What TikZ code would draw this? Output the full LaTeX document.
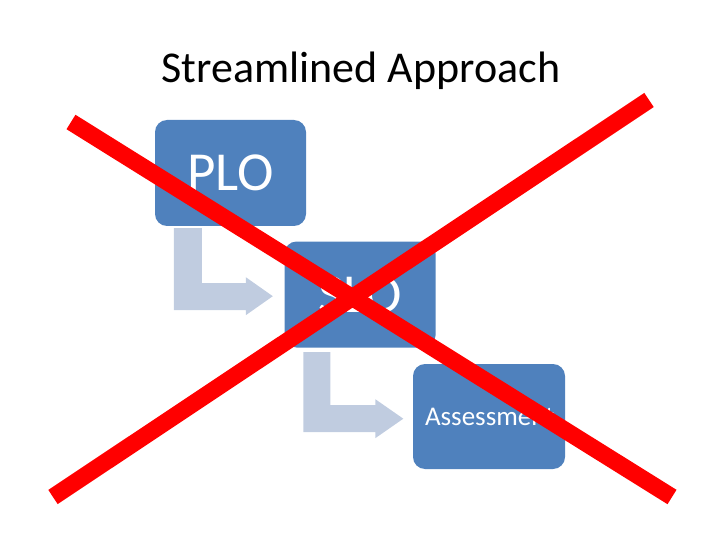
\documentclass[tikz,border=0pt]{standalone}
\usepackage{fontspec}
\setmainfont{Carlito}
\usetikzlibrary{calc}
\definecolor{boxblue}{HTML}{4F81BD}
\definecolor{arrowblue}{HTML}{C0CCE0}
\definecolor{crossred}{HTML}{FF0000}
\begin{document}
\begin{tikzpicture}[x=1pt,y=-1pt,
  stagebox/.style={fill=boxblue, rounded corners=12pt, minimum width=151pt, minimum height=106pt, inner sep=0pt, text=white},
  bentarrow/.style={fill=arrowblue},
  crossline/.style={draw=crossred, line width=17pt}]
\useasboundingbox (0,0) rectangle (720,540);
\node[font=\fontsize{44}{50}\selectfont, anchor=base, inner sep=0pt] (title) at (361,83) {Streamlined Approach};
\node[stagebox, font=\fontsize{55}{60}\selectfont] (plo) at (230.5,173) {PLO};
\node[stagebox, font=\fontsize{55}{60}\selectfont] (slo) at (360,294.5) {SLO};
\node[stagebox, font=\fontsize{27}{30}\selectfont, minimum width=152pt, minimum height=105pt, text width=128pt, align=left] (assess) at (489,416.5) {Assessment};
% bent arrows
\coordinate (a1) at ($(plo.south west)+(19,2)$);
\fill[bentarrow] (a1) -- ++(28,0) -- ++(0,55) -- ++(44,0) -- ++(0,-6) -- ++(27,19) -- ++(-27,19) -- ++(0,-5) -- ++(-72,0) -- cycle;
\coordinate (a2) at ($(slo.south west)+(19,4.5)$);
\fill[bentarrow] (a2) -- ++(27,0) -- ++(0,53) -- ++(45,0) -- ++(0,-6) -- ++(28,19.5) -- ++(-28,19.5) -- ++(0,-6) -- ++(-72,0) -- cycle;
% cross
\coordinate (c1s) at (71,122);
\coordinate (c1e) at (672,497);
\coordinate (c2s) at (649,100);
\coordinate (c2e) at (53,497);
\draw[crossline] (c1s) -- (c1e);
\draw[crossline] (c2s) -- (c2e);
\end{tikzpicture}
\end{document}
